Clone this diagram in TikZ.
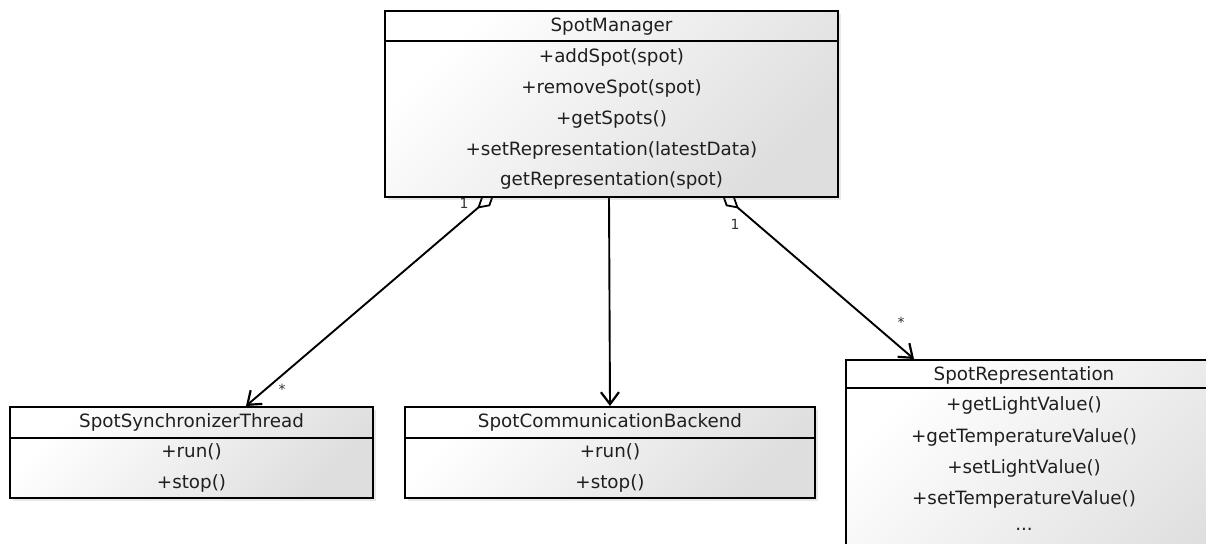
\documentclass[tikz,border=0pt]{standalone}
\usepackage{fontspec}
\setmainfont{DejaVu Sans}
\usetikzlibrary{arrows.meta,shadows,calc}
\pgfdeclarelayer{under}
\pgfsetlayers{under,main}
\tikzset{
  umlbox/.style={draw=black, line width=2pt, inner sep=0pt,
    top color=white, bottom color=black!13, shading angle=45,
    drop shadow={opacity=0.18, shadow xshift=3pt, shadow yshift=-3pt}},
  sep/.style={draw=black, line width=1.7pt},
  txt/.style={font=\fontsize{18.3}{21}\selectfont, text=black!88, inner sep=0pt, anchor=base},
  mult/.style={font=\fontsize{14}{16}\selectfont, text=black!80, inner sep=0pt},
  conn/.style={draw=black, line width=1.9pt},
  assoc/.style={conn, -{Straight Barb[length=12pt,width=18pt,line width=2.2pt]}},
  diam/.style={draw=black, fill=white, line width=1.8pt, line join=miter}
}
\begin{document}
\begin{tikzpicture}[x=1pt,y=-1pt]
\useasboundingbox (0,0) rectangle (1206,543);
\begin{pgfonlayer}{under}
\fill[white] (0,0) rectangle (1206,543);
\end{pgfonlayer}

% SpotManager
\node[umlbox, minimum width=453pt, minimum height=186pt] (sm) at (611.5,104) {};
\draw[sep] ([yshift=-31pt]sm.north west) -- ([yshift=-31pt]sm.north east);
\node[txt] (smt) at (611.5,32) {SpotManager};
\node[txt] (sm1) at (611.5,63) {+addSpot(spot)};
\node[txt] (sm2) at (611.5,93.5) {+removeSpot(spot)};
\node[txt] (sm3) at (611.5,124) {+getSpots()};
\node[txt] (sm4) at (611.5,155) {+setRepresentation(latestData)};
\node[txt] (sm5) at (611.5,185) {getRepresentation(spot)};

% SpotSynchronizerThread
\node[umlbox, minimum width=363pt, minimum height=91pt] (sst) at (191.5,452.5) {};
\draw[sep] ([yshift=-32pt]sst.north west) -- ([yshift=-32pt]sst.north east);
\node[txt] (sstt) at (191.5,427) {SpotSynchronizerThread};
\node[txt] (sst1) at (191.5,457) {+run()};
\node[txt] (sst2) at (191.5,488) {+stop()};

% SpotCommunicationBackend
\node[umlbox, minimum width=410pt, minimum height=91pt] (scb) at (610,452.5) {};
\draw[sep] ([yshift=-32pt]scb.north west) -- ([yshift=-32pt]scb.north east);
\node[txt] (scbt) at (610,427) {SpotCommunicationBackend};
\node[txt] (scb1) at (610,457) {+run()};
\node[txt] (scb2) at (610,488) {+stop()};

% SpotRepresentation (runs past the page edges)
\node[umlbox, minimum width=420pt, minimum height=220pt] (sr) at (1056,470) {};
\draw[sep] ([yshift=-29pt]sr.north west) -- ([yshift=-29pt]sr.north east);
\node[txt] (srt) at (1024,380) {SpotRepresentation};
\node[txt] (sr1) at (1024,410.5) {+getLightValue()};
\node[txt] (sr2) at (1024,442) {+getTemperatureValue()};
\node[txt] (sr3) at (1024,473) {+setLightValue()};
\node[txt] (sr4) at (1024,504) {+setTemperatureValue()};
\node[txt] (sr5) at (1024,530) {...};

% connector end points
\coordinate (a1) at ([xshift=109pt,yshift=3pt]sm.south west);
\coordinate (b1) at ([xshift=237pt]sst.north west);
\coordinate (a2) at ([xshift=339pt,yshift=3pt]sm.south west);
\coordinate (b2) at ([xshift=69pt]sr.north west);
\coordinate (d1) at ($(a1)!19pt!(b1)$);
\coordinate (d2) at ($(a2)!19pt!(b2)$);

% connectors (under the boxes, as in the reference)
\begin{pgfonlayer}{under}
\draw[assoc] (d1) -- (b1);
\draw[assoc] ([xshift=225pt]sm.south west) -- (scb.north);
\draw[assoc] (d2) -- (b2);
\draw[diam] (a1) -- ($(a1)!9.5pt!(b1)!5.5pt!90:(b1)$) -- (d1) -- ($(a1)!9.5pt!(b1)!5.5pt!-90:(b1)$) -- cycle;
\draw[diam] (a2) -- ($(a2)!9.5pt!(b2)!5.5pt!90:(b2)$) -- (d2) -- ($(a2)!9.5pt!(b2)!5.5pt!-90:(b2)$) -- cycle;
\end{pgfonlayer}

% multiplicities
\node[mult] (m1) at (464,203) {1};
\node[mult] (m2) at (282,389) {*};
\node[mult] (m3) at (735,224) {1};
\node[mult] (m4) at (901,322) {*};
\end{tikzpicture}
\end{document}
